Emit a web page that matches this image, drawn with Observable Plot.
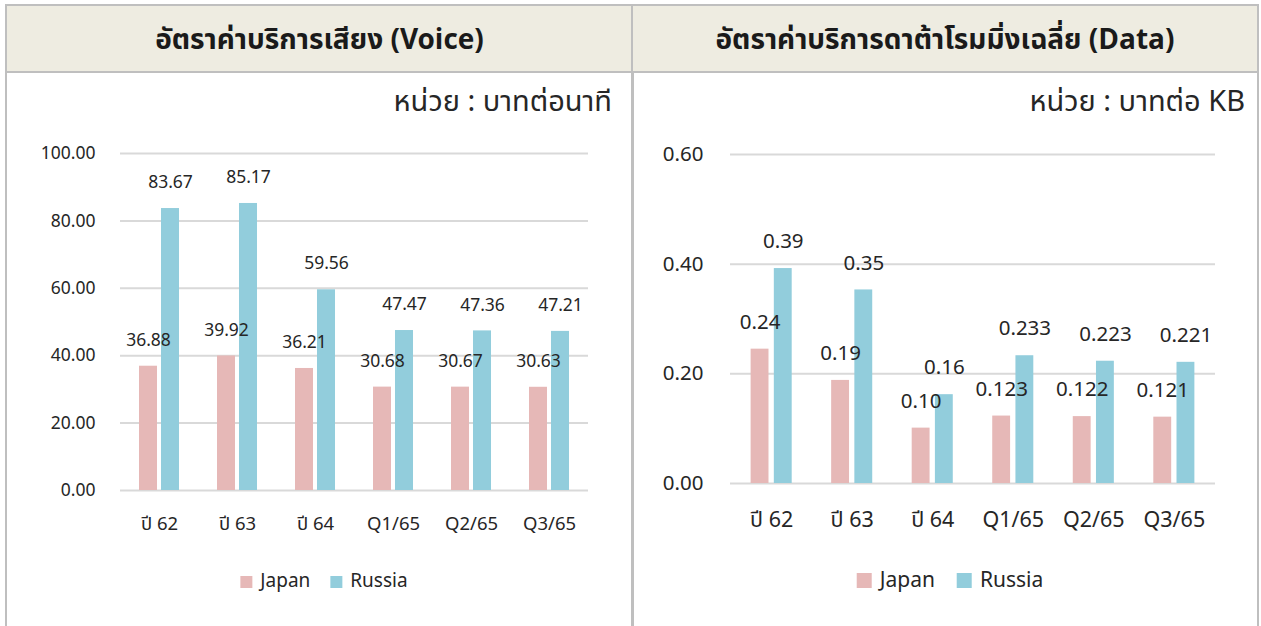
<!DOCTYPE html>
<html><head><meta charset="utf-8">
<script src="https://cdn.jsdelivr.net/npm/d3@7"></script>
<script src="https://cdn.jsdelivr.net/npm/@observablehq/plot@0.6"></script>
<style>
body{margin:0;background:#fff;font-family:"Noto Sans Thai","Noto Sans",Tahoma,sans-serif;color:#262626}
#wrap{position:relative;width:1261px;height:626px;overflow:hidden}
.panel{position:absolute;top:4px;height:660px;border:2px solid #bfbfbf;box-sizing:border-box}
.head{position:absolute;left:0;right:0;top:0;height:67px;background:#eeece1;border-bottom:2px solid #bfbfbf;display:flex;align-items:center;justify-content:center;font-weight:bold;font-size:28px;color:#1a1a1a;padding-top:3px;box-sizing:border-box}
.unit{position:absolute;font-size:29px;color:#262626;white-space:nowrap;line-height:36px}
.chart{position:absolute}
.legend{position:absolute;display:flex;align-items:center;white-space:nowrap;transform:translateX(-50%)}
.legend .sw{display:inline-block}
</style>
</head><body>
<div id="wrap">
  <div class="panel" style="left:5px;width:629px"><div class="head" id="t1"></div></div>
  <div class="panel" style="left:631px;width:628px"><div class="head" id="t2"></div></div>
  <div class="unit" id="u1" style="right:649px;top:84px"></div>
  <div class="unit" id="u2" style="right:16px;top:84px"></div>
  <div class="chart" id="c1" style="left:7px;top:130px"></div>
  <div class="chart" id="c2" style="left:634px;top:130px"></div>
  <div class="legend" id="l1" style="left:324px;top:567px"></div>
  <div class="legend" id="l2" style="left:950px;top:565px"></div>
</div>
<script>
const categories = ["ปี 62", "ปี 63", "ปี 64", "Q1/65", "Q2/65", "Q3/65"];
const seriesNames = ["Japan", "Russia"];
const seriesColors = ["#e6b8b7", "#92cddc"];

const voiceTitle = "อัตราค่าบริการเสียง (Voice)";
const voiceUnit = "หน่วย : บาทต่อนาที";
const voiceJapan = [36.88, 39.92, 36.21, 30.68, 30.67, 30.63];
const voiceRussia = [83.67, 85.17, 59.56, 47.47, 47.36, 47.21];
const voiceJapanLabels = ["36.88", "39.92", "36.21", "30.68", "30.67", "30.63"];
const voiceRussiaLabels = ["83.67", "85.17", "59.56", "47.47", "47.36", "47.21"];
const voiceTicks = [0, 20, 40, 60, 80, 100];

const dataTitle = "อัตราค่าบริการดาต้าโรมมิ่งเฉลี่ย (Data)";
const dataUnit = "หน่วย : บาทต่อ KB";
const dataJapan = [0.245, 0.188, 0.101, 0.123, 0.122, 0.121];
const dataRussia = [0.392, 0.353, 0.162, 0.233, 0.223, 0.221];
const dataJapanLabels = ["0.24", "0.19", "0.10", "0.123", "0.122", "0.121"];
const dataRussiaLabels = ["0.39", "0.35", "0.16", "0.233", "0.223", "0.221"];
const dataTicks = [0, 0.2, 0.4, 0.6];

function rows(japan, russia, jl, rl) {
  return categories.flatMap((c, i) => [
    {cat: c, series: "Japan", value: japan[i], label: jl[i]},
    {cat: c, series: "Russia", value: russia[i], label: rl[i]}
  ]);
}

function draw(cfg) {
  const data = rows(cfg.japan, cfg.russia, cfg.jl, cfg.rl);
  const J = data.filter(d => d.series === "Japan");
  const R = data.filter(d => d.series === "Russia");
  const fs = cfg.fs;
  return Plot.plot({
    width: cfg.width, height: cfg.height,
    marginLeft: cfg.ml, marginRight: cfg.mr, marginTop: cfg.mt, marginBottom: cfg.mb,
    style: {fontFamily: '"Noto Sans Thai","Noto Sans",Tahoma,sans-serif', fontSize: fs + "px", color: "#262626", background: "transparent"},
    x: {domain: categories, paddingInner: cfg.pi, paddingOuter: cfg.po, round: false, label: null},
    y: {domain: cfg.domain, ticks: cfg.ticks, label: null},
    marks: [
      Plot.ruleY(cfg.ticks, {stroke: "#d9d9d9", strokeWidth: 2}),
      Plot.barY(J, {x: "cat", y: "value", fill: seriesColors[0], insetRight: cfg.bw - cfg.bar}),
      Plot.barY(R, {x: "cat", y: "value", fill: seriesColors[1], insetLeft: cfg.bw - cfg.bar}),
      Plot.text(J, {x: "cat", y: "value", text: "label", dx: -(cfg.bw / 2 - cfg.bar / 2), dy: -cfg.ldy, fill: "#262626", fontSize: fs, lineAnchor: "middle"}),
      Plot.text(R, {x: "cat", y: "value", text: "label", dx: (cfg.bw / 2 - cfg.bar / 2), dy: -cfg.ldy, fill: "#262626", fontSize: fs, lineAnchor: "middle"}),
      Plot.axisY({ticks: cfg.ticks, tickFormat: d3.format(".2f"), tickSize: 0, tickPadding: cfg.ytp, fontSize: fs, fill: "#262626", label: null}),
      Plot.axisX({tickSize: 0, tickPadding: cfg.xtp, fontSize: cfg.xfs, fill: "#262626", label: null})
    ]
  });
}

function legend(el, fs, sw, gap) {
  seriesNames.forEach((n, i) => {
    const s = document.createElement("span");
    s.className = "sw";
    s.style.cssText = `width:${sw}px;height:${sw}px;background:${seriesColors[i]};margin-right:8px;margin-left:${i ? gap : 0}px`;
    const t = document.createElement("span");
    t.textContent = n;
    t.style.fontSize = fs + "px";
    el.append(s, t);
  });
}

document.getElementById("t1").textContent = voiceTitle;
document.getElementById("t2").textContent = dataTitle;
document.getElementById("u1").textContent = voiceUnit;
document.getElementById("u2").textContent = dataUnit;

document.getElementById("c1").append(draw({
  japan: voiceJapan, russia: voiceRussia, jl: voiceJapanLabels, rl: voiceRussiaLabels,
  width: 624, height: 420, ml: 113, mr: 43, mt: 23, mb: 60,
  domain: [0, 100], ticks: voiceTicks, pi: 0.487, po: 0.2435, bw: 40, bar: 18, gap: 4,
  ldy: 26, ytp: 25, xtp: 26, fs: 17.5, xfs: 18.5
}));
document.getElementById("c2").append(draw({
  japan: dataJapan, russia: dataRussia, jl: dataJapanLabels, rl: dataRussiaLabels,
  width: 621, height: 420, ml: 96, mr: 40, mt: 24, mb: 67,
  domain: [0, 0.6], ticks: dataTicks, pi: 0.49, po: 0.256, bw: 41.2, bar: 18, gap: 5,
  ldy: 27, ytp: 27, xtp: 28, fs: 20.5, xfs: 21.5
}));
legend(document.getElementById("l1"), 19, 12, 20);
legend(document.getElementById("l2"), 21, 15, 22);
</script>
</body></html>
